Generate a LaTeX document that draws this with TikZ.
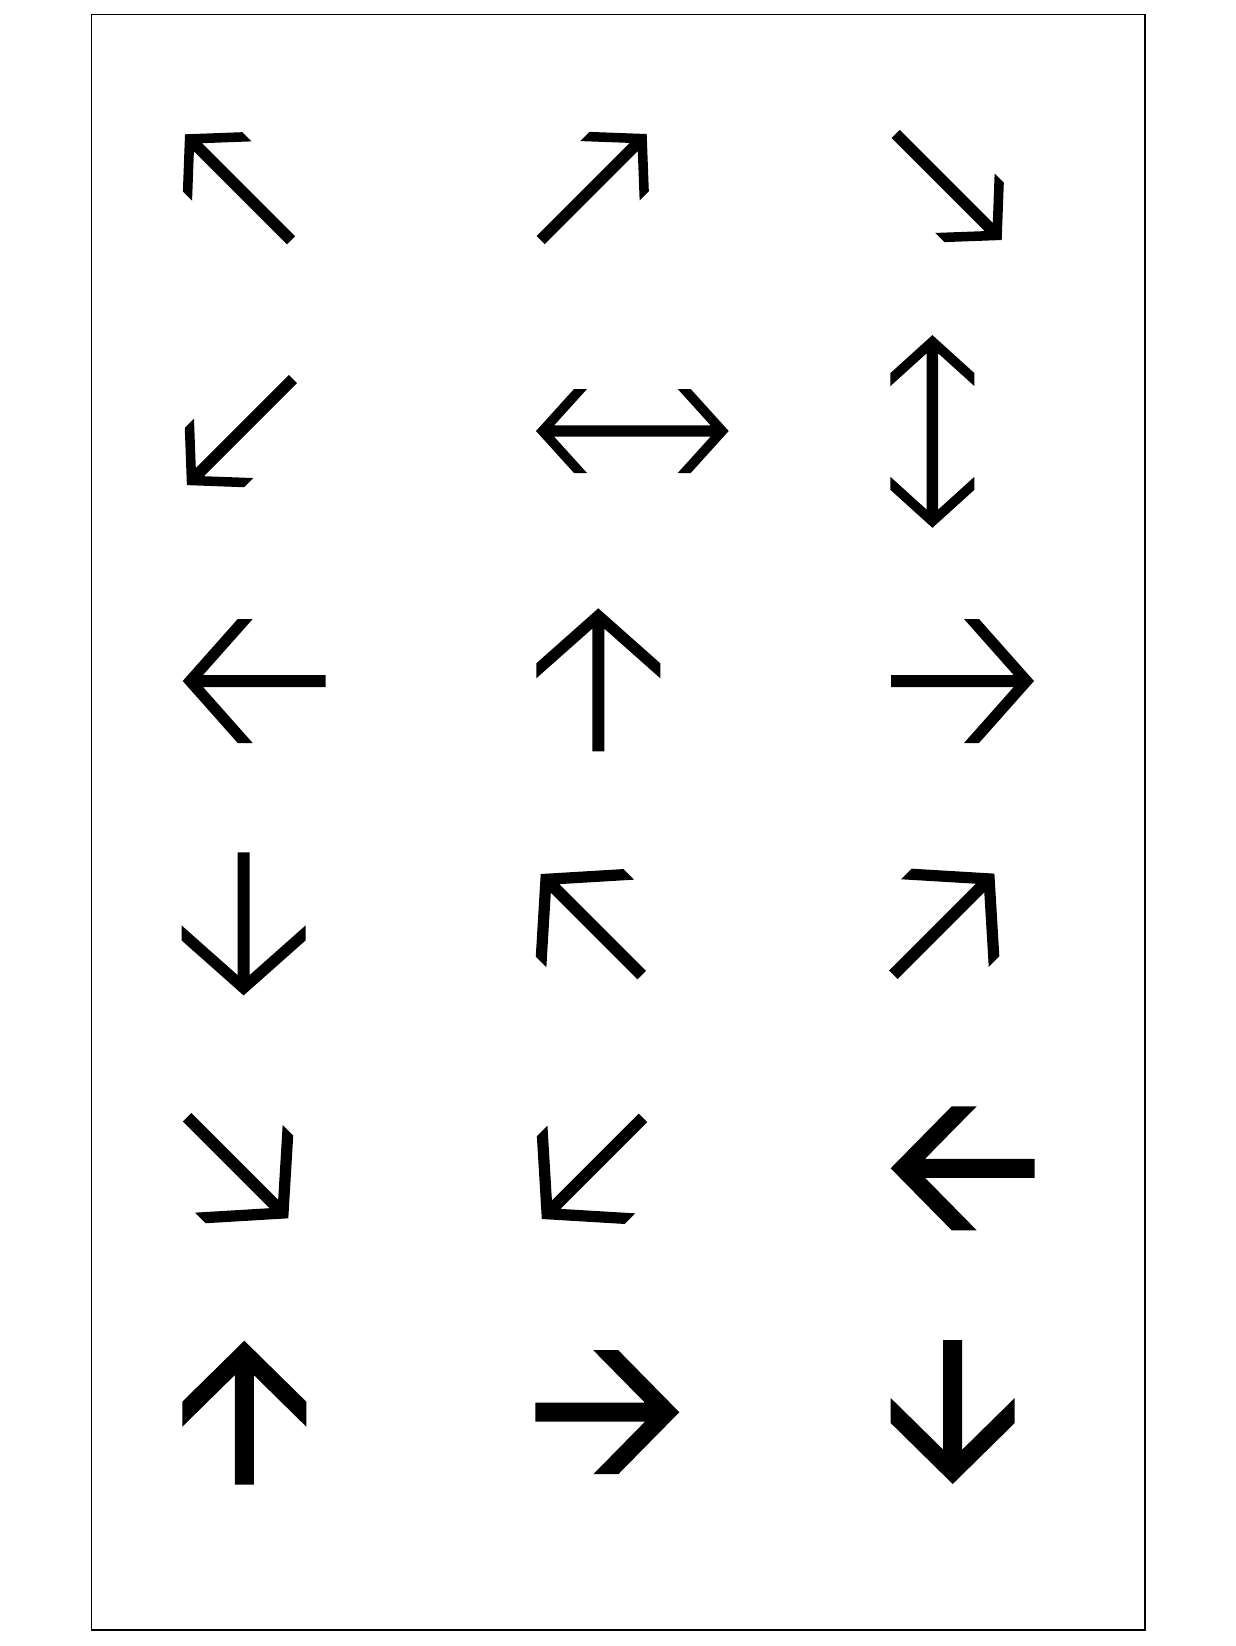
\documentclass[tikz,border=0pt]{standalone}
\usepackage{tikz}
\usetikzlibrary{calc}
\tikzset{glyph/.style={fill=black}, frame/.style={draw=black, line width=0.65pt}}

% one arrow: tip, angle, head length, head half width, cut, shaft half width, length
\newcommand{\arrowglyph}[7]{%
\begin{scope}[shift={(#1)},rotate=#2]
\pgfmathsetmacro{\xin}{#3+#5-(#4-#6)*#3/#4}
\fill[glyph] (0,0) -- (-#3,#4) -- (-#3-#5,#4) -- (-\xin,#6) -- (-#7,#6) -- (-#7,-#6) -- (-\xin,-#6) -- (-#3-#5,-#4) -- (-#3,-#4) -- cycle;
\end{scope}}
% two heads: first tip, angle, distance between tips
\newcommand{\twoheads}[3]{%
\begin{scope}[shift={(#1)},rotate=#2]
\pgfmathsetmacro{\xin}{38+13-(42-5.7)*38/42}
\fill[glyph] (0,0) -- (38,42) -- (51,42) -- (\xin,5.7) -- (#3-\xin,5.7) -- (#3-51,42) -- (#3-38,42) -- (#3,0)
  -- (#3-38,-42) -- (#3-51,-42) -- (#3-\xin,-5.7) -- (\xin,-5.7) -- (51,-42) -- (38,-42) -- cycle;
\end{scope}}
\newcommand{\smallarrow}[2]{\arrowglyph{#1}{#2}{39}{42}{13}{5.7}{150}}
\newcommand{\thinarrow}[2]{\arrowglyph{#1}{#2}{55}{62}{15}{6}{143}}
\newcommand{\thickarrow}[2]{\arrowglyph{#1}{#2}{61}{62}{25}{9.5}{144}}

\begin{document}
\begin{tikzpicture}[x=0.5pt,y=-0.5pt]
\useasboundingbox (0,0) rectangle (1236,1646);
\draw[frame] (91.7,14.7) rectangle (1145,1630);

\coordinate (nwA) at (185,134.3);
\coordinate (neA) at (646.7,134);
\coordinate (seA) at (1001.7,240);
\coordinate (swA) at (186.9,485.1);
\coordinate (lrA) at (536,431);
\coordinate (udA) at (932.4,527.8);
\coordinate (leA) at (182.7,681);
\coordinate (upA) at (598.3,608.3);
\coordinate (riA) at (1034,681);
\coordinate (doA) at (243.6,995.4);
\coordinate (nwB) at (540.7,874);
\coordinate (neB) at (994.4,873.6);
\coordinate (seB) at (288.3,1218.3);
\coordinate (swB) at (541.8,1219);
\coordinate (leB) at (890.7,1168.3);
\coordinate (upB) at (244.3,1340.7);
\coordinate (riB) at (679.3,1412.2);
\coordinate (doB) at (952.7,1484);

\smallarrow{nwA}{135}
\smallarrow{neA}{45}
\smallarrow{seA}{-45}
\smallarrow{swA}{225}
\twoheads{lrA}{0}{192.7}
\twoheads{udA}{90}{192.7}
\thinarrow{leA}{180}
\thinarrow{upA}{90}
\thinarrow{riA}{0}
\thinarrow{doA}{270}
\thinarrow{nwB}{135}
\thinarrow{neB}{45}
\thinarrow{seB}{-45}
\thinarrow{swB}{225}
\thickarrow{leB}{180}
\thickarrow{upB}{90}
\thickarrow{riB}{0}
\thickarrow{doB}{270}

\end{tikzpicture}
\end{document}
